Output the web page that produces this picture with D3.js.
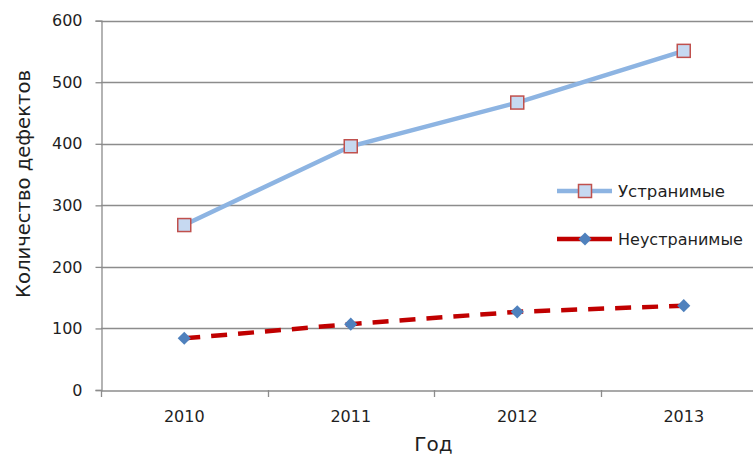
<!DOCTYPE html>
<html><head><meta charset="utf-8">
<script src="https://cdn.jsdelivr.net/npm/d3@7"></script>
<style>body{margin:0;background:#fff}svg{display:block}</style>
</head><body>
<script>
const years = ["2010","2011","2012","2013"];
const fixable = [268, 396, 467, 551];
const unfixable = [84, 107, 127, 137];
const yTicks = [0,100,200,300,400,500,600];
const seriesNames = ["Устранимые","Неустранимые"];
const yTitle = "Количество дефектов";
const xTitle = "Год";

(function(){
const W=753,H=457;
const svg=d3.select("body").append("svg").attr("width",W).attr("height",H);
const pLeft=101, pRight=767, pTop=20.7, pBottom=390;
const x=d3.scaleBand().domain(years).range([pLeft,pRight]);
const y=d3.scaleLinear().domain([0,600]).range([pBottom,pTop]);
const font="'DejaVu Sans', Verdana, sans-serif";
const txt="#1f1f1f", grid="#8c8c8c";
function fit(sel, target){
  sel.each(function(){
    const fs=+this.getAttribute("font-size");
    const w=this.getComputedTextLength();
    if(w>0) this.setAttribute("font-size", (fs*target/w).toFixed(2));
  });
}

// gridlines
svg.append("g").selectAll("line").data(yTicks.filter(d=>d>0)).join("line")
 .attr("x1",pLeft).attr("x2",W).attr("y1",d=>Math.round(y(d))+0.5).attr("y2",d=>Math.round(y(d))+0.5)
 .attr("stroke",grid).attr("stroke-width",1.3);

// y axis
const ya=svg.append("g").attr("transform",`translate(${pLeft+0.5},0)`)
 .call(d3.axisLeft(y).tickValues(yTicks).tickSize(6).tickPadding(13));
ya.select(".domain").attr("stroke",grid).attr("stroke-width",1.3);
ya.selectAll(".tick line").attr("stroke",grid).attr("stroke-width",1.3);
ya.selectAll("text").attr("font-family",font).attr("font-size",16).attr("fill",txt);

// x axis
const xa=svg.append("g").attr("transform",`translate(0,${Math.round(pBottom)+0.5})`)
 .call(d3.axisBottom(x).tickSize(0).tickPadding(20));
xa.select(".domain").attr("stroke",grid).attr("stroke-width",1.3);
xa.selectAll("text").attr("font-family",font).attr("font-size",16).attr("fill",txt);
// category boundary ticks
const bounds=[pLeft].concat(years.map(d=>x(d)+x.bandwidth()));
svg.append("g").selectAll("line").data(bounds).join("line")
 .attr("x1",d=>Math.round(d)+0.5).attr("x2",d=>Math.round(d)+0.5)
 .attr("y1",pBottom).attr("y2",pBottom+7).attr("stroke",grid).attr("stroke-width",1.3);

const cx=d=>x(d)+x.bandwidth()/2;
const line=d3.line().x(d=>cx(d.k)).y(d=>y(d.v));
const fixData=years.map((k,i)=>({k,v:fixable[i]}));
const unfixData=years.map((k,i)=>({k,v:unfixable[i]}));

svg.append("path").datum(fixData).attr("d",line).attr("fill","none")
 .attr("stroke","#8db4e2").attr("stroke-width",4.5);
svg.append("path").datum(unfixData).attr("d",line).attr("fill","none")
 .attr("stroke","#c00000").attr("stroke-width",4.5).attr("stroke-dasharray","16,11");

const sq=13;
svg.append("g").selectAll("rect").data(fixData).join("rect")
 .attr("x",d=>cx(d.k)-sq/2).attr("y",d=>y(d.v)-sq/2).attr("width",sq).attr("height",sq)
 .attr("fill","#c6d9f1").attr("stroke","#c0504d").attr("stroke-width",1.5);
const diamond=d3.symbol().type(d3.symbolDiamond2).size(110);
svg.append("g").selectAll("path").data(unfixData).join("path")
 .attr("transform",d=>`translate(${cx(d.k)},${y(d.v)})`).attr("d",diamond).attr("fill","#4f81bd");

// legend
const lg=svg.append("g");
const ly=[191,239];
lg.append("line").attr("x1",557).attr("x2",612).attr("y1",ly[0]).attr("y2",ly[0]).attr("stroke","#8db4e2").attr("stroke-width",4.5);
lg.append("rect").attr("x",585-sq/2).attr("y",ly[0]-sq/2).attr("width",sq).attr("height",sq)
 .attr("fill","#c6d9f1").attr("stroke","#c0504d").attr("stroke-width",1.5);
lg.append("line").attr("x1",557).attr("x2",612).attr("y1",ly[1]).attr("y2",ly[1]).attr("stroke","#c00000").attr("stroke-width",4.5);
lg.append("path").attr("transform",`translate(585,${ly[1]})`).attr("d",diamond).attr("fill","#4f81bd");
const lt=lg.selectAll("text").data(seriesNames).join("text")
 .attr("x",618).attr("y",(d,i)=>ly[i]+6).text(d=>d)
 .attr("font-family",font).attr("font-size",15).attr("fill",txt);
fit(lt.filter((d,i)=>i===0),107);
fit(lt.filter((d,i)=>i===1),125);

// titles
const yt=svg.append("text").attr("transform","translate(30,184) rotate(-90)").attr("text-anchor","middle")
 .attr("font-family",font).attr("font-size",19).attr("fill",txt).text(yTitle);
fit(yt,228);
svg.append("text").attr("x",433.5).attr("y",451).attr("text-anchor","middle")
 .attr("font-family",font).attr("font-size",20).attr("fill",txt).text(xTitle);
})();
</script>
</body></html>
